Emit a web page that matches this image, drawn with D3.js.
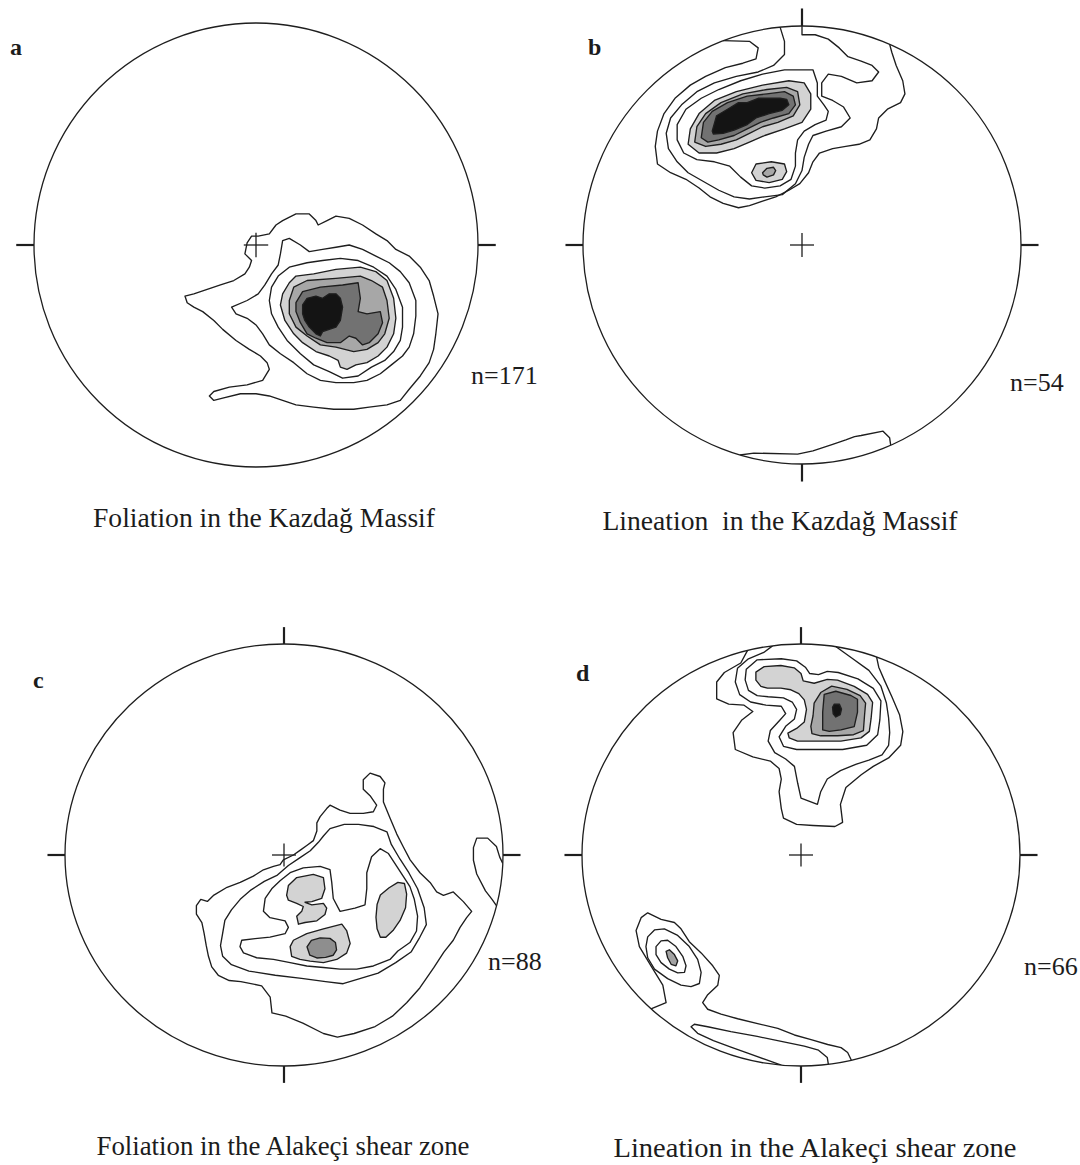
<!DOCTYPE html>
<html>
<head>
<meta charset="utf-8">
<script src="https://cdn.jsdelivr.net/npm/d3@7"></script>
<style>
  body { margin: 0; background: #fff; }
  svg text { font-family: 'Liberation Serif', 'Times New Roman', serif; fill: #1c1c1c; }
</style>
</head>
<body>
<div id="chart"></div>
<script>
'use strict';

/*
    Density contours on four equal-area nets.
    Every vertex is in net units: primitive circle radius = 100, +x east, +y south.
*/

// --- a : foliation, Kazdag Massif (n=171)
var aOuter = [[-2,7],[-5,4],[-4,-1],[-2,-4],[1,-4],[6,-5],[9,-9],[12,-11],[18,-14],[24,-14],[27,-11],[28,-9],[32,-11],[36,-13],[42,-12],[48,-9],[54,-5],[59,-2],[63,2],[69,5],[74,10],[78,16],[80,23],[82,31],[81,40],[80,47],[78,53],[74,59],[69,65],[65,70],[59,72],[51,73],[44,74],[35,74],[26,73],[18,72],[12,70],[6,68],[0,67],[-7,67],[-15,69],[-19,70],[-21,68],[-19,66],[-12,64],[-4,63],[3,61],[6,56],[5,53],[2,50],[-3,47],[-9,43],[-15,38],[-19,34],[-24,30],[-28,28],[-31,26],[-32,23],[-28,22],[-22,20],[-16,18],[-10,16],[-5,13],[-3,10]];
var aSecond = [[-11,28],[-4,25],[1,22],[4,18],[7,13],[10,9],[11,4],[12,-2],[15,-3],[20,0],[24,3],[30,2],[36,1],[42,0],[48,2],[54,5],[60,8],[65,12],[69,17],[72,25],[72,32],[71,40],[69,46],[66,50],[61,54],[56,58],[50,61],[44,62],[36,62],[29,61],[23,58],[17,53],[11,49],[6,45],[3,40],[0,36],[-4,33],[-9,31]];
var aThird = [[6,25],[7,19],[10,14],[15,10],[23,8],[30,7],[38,6],[46,7],[53,10],[59,14],[63,20],[66,28],[66,37],[65,43],[62,48],[58,52],[52,55],[46,59],[39,60],[33,57],[26,54],[20,49],[14,43],[10,37],[7,31]];
var aLight = [[12,22],[15,17],[18,14],[26,13],[36,11],[47,10],[54,12],[59,16],[62,24],[63,33],[62,40],[59,46],[55,50],[50,53],[45,54],[41,56],[38,55],[37,52],[33,50],[27,48],[21,44],[17,40],[13,34],[11,27]];
var aMid = [[15,25],[17,19],[23,16],[36,15],[47,14],[52,16],[57,19],[59,25],[60,33],[58,40],[55,44],[50,47],[44,48],[36,46],[29,45],[23,41],[18,37],[15,31]];
var aDark = [[18,26],[21,21],[29,19],[39,18],[46,17],[47,24],[46,30],[50,31],[56,30],[57,35],[55,40],[51,44],[48,45],[45,42],[42,41],[38,44],[32,44],[27,42],[23,40],[20,35],[18,30]];
var aCore = [[21,27],[23,24],[27,23],[30,24],[33,22],[36,22],[38,24],[39,28],[38,34],[36,37],[33,38],[30,39],[29,41],[27,40],[24,37],[22,34],[21,31]];

// --- b : lineation, Kazdag Massif (n=54)
var bOuter = [[-36,-93.3],[-24,-93],[-20,-90],[-21,-85],[-27,-83],[-35,-81],[-44,-77],[-51,-73],[-58,-67],[-63,-60],[-66,-52],[-67,-45],[-66,-37],[-60,-33],[-53,-30],[-47,-26],[-42,-22],[-36,-19],[-29,-17],[-24,-18],[-18,-20],[-12,-22],[-6,-25],[-1,-28],[3,-33],[5,-38],[8,-42],[14,-44],[20,-45],[26,-46],[31,-48],[34,-53],[35,-58],[39,-62],[45,-65],[47,-69],[46,-75],[43,-82],[41,-88],[40,-91.7]];
var bSecond = [[0,-100],[0,-96],[6,-96],[12,-94],[17,-90],[21,-86],[27,-84],[32,-82],[35,-79],[32,-75],[25,-74],[18,-77],[12,-78],[9,-74],[9,-68],[14,-66],[19,-63],[22,-58],[18,-54],[11,-52],[5,-50],[3,-46],[1,-40],[0,-34],[-3,-28],[-9,-23],[-17,-22],[-24,-21],[-31,-22],[-38,-25],[-45,-29],[-52,-33],[-57,-38],[-61,-44],[-62,-51],[-60,-58],[-55,-64],[-48,-70],[-40,-74],[-30,-77],[-20,-79],[-13,-82],[-8,-87],[-8,-93],[-10,-99.5]];
var bThird = [[5,-80],[7,-74],[7,-68],[10,-64],[12,-61],[11,-57],[6,-55],[1,-52],[-2,-48],[-3,-42],[-3,-36],[-5,-30],[-10,-27],[-17,-26],[-23,-27],[-28,-31],[-33,-36],[-40,-38],[-48,-39],[-54,-42],[-57,-48],[-57,-55],[-53,-62],[-46,-67],[-38,-71],[-28,-75],[-18,-78],[-8,-80]];
var bLight = [[-52,-46],[-51,-53],[-47,-60],[-40,-66],[-30,-70],[-18,-73],[-6,-75],[1,-74],[4,-69],[4,-62],[0,-56],[-8,-53],[-17,-50],[-24,-47],[-31,-44],[-39,-42],[-47,-42]];
var bMid = [[-49,-47],[-48,-54],[-44,-60],[-37,-65],[-27,-69],[-16,-71],[-7,-72],[-2,-70],[-1,-64],[-4,-59],[-11,-56],[-18,-54],[-24,-51],[-30,-48],[-37,-46],[-44,-45]];
var bDark = [[-46,-49],[-45,-56],[-41,-61],[-34,-65],[-25,-68],[-16,-69],[-8,-70],[-4,-68],[-3,-64],[-6,-60],[-13,-58],[-19,-56],[-25,-53],[-31,-50],[-38,-48],[-43,-47]];
var bCore = [[-41,-52],[-39,-59],[-34,-62],[-29,-65],[-25,-65],[-20,-67],[-15,-67],[-10,-67],[-7,-66.5],[-6,-64],[-9,-61.5],[-15,-60],[-21,-58],[-25,-55],[-31,-52.5],[-36,-51],[-40.5,-50.7]];
var bSmallLight = [[-23,-33],[-21,-37],[-14,-38],[-8,-37],[-7,-33.5],[-9,-30],[-15,-28.5],[-21,-29.5]];
var bSmallMid = [[-18,-33],[-16,-35],[-13,-35.5],[-12,-34],[-13,-32],[-16,-31],[-17.7,-32]];
var bAntipode = [[-28.3,95.9],[-22,95],[-2,95.5],[5,94],[14,91],[20,89],[24,87.5],[27,87],[37,85],[40,88],[40.5,91.4]];

// --- c : foliation, Alakeci shear zone (n=88)
var cOuter = [[-38,21],[-35,22],[-32,19],[-26,15.3],[-20,13],[-14,10],[-9.4,7],[-4.8,5.4],[-1.8,4.6],[-0.3,2.3],[4.3,0],[7.3,-2.2],[10.4,-4.5],[13.4,-6.8],[15,-11.4],[15,-15.2],[16.5,-18.2],[19.5,-22],[21,-23.6],[25.6,-21.3],[30.2,-19.7],[36.2,-19.7],[40.8,-20.5],[42.3,-23.6],[39.3,-28.1],[36.2,-31.2],[36.2,-35.7],[39.3,-38.8],[43.9,-37.2],[46.1,-34.2],[45.4,-31.2],[45.4,-25.1],[48.4,-17.5],[51.5,-9.9],[54.5,-3.8],[57.6,2.3],[62.1,8.4],[66.7,13],[69.7,17.5],[72.8,19.1],[77.3,17.5],[81.9,22.1],[85.7,26.7],[83.4,29.7],[80.4,34.3],[77.3,40.4],[73,46],[68.4,53.4],[62,63],[56,70],[49.5,76.4],[41.6,81.3],[32,84.6],[24.4,86.3],[18,84.6],[8.6,79.7],[0.8,76.4],[-5.5,74.8],[-6.3,67.4],[-10.2,62],[-19.7,60],[-25,59.5],[-30,57],[-33,53],[-34.5,48],[-35.5,43],[-36.5,37],[-37.5,32],[-40,28],[-40,24]];
var cSecond = [[2,5],[7,1.5],[12,-2],[15.7,-6],[18,-9],[21,-12.5],[27.5,-14.5],[34,-14.5],[41,-13.5],[47,-11],[49,-5],[53,2],[57,8.4],[61,16],[64,25],[65,33],[62,39],[58,46],[51,51],[43,56],[35,58.5],[27,61],[19,60],[8,58.5],[-4,57],[-16,55],[-24,52],[-28,48],[-29,43],[-28,37],[-27,31],[-24,26],[-20,21],[-15,16.5],[-9,12.5],[-3,9.5]];
var cThird = [[-20.1,43.4],[-19.3,40.4],[-13.2,39.6],[-6.4,38.9],[0.5,37.3],[2,34.3],[0.5,31.2],[-6.4,29.7],[-9.4,26.7],[-8.6,20.6],[-5.6,16],[-1.8,12.2],[2.8,8.4],[8.8,6.1],[16.5,5.4],[21,6.9],[21.8,13],[22.5,20.6],[25.6,26.7],[32.4,25.2],[37,23.6],[37.8,16],[37.8,8.4],[40,0.8],[43.9,-3],[47.7,-0.7],[51.5,5.4],[55,11],[57.5,15],[59.5,21],[61,29],[60.5,36],[57.5,41.5],[52,45.5],[48.4,49.5],[40.8,52.6],[33.2,54.1],[25.6,54.1],[18,53.3],[10.4,52.6],[2.8,51],[-4.8,49.5],[-12.5,48.7],[-18.5,46.4]];
var cLightNW = [[1.2,19.1],[2,14.5],[5.8,10.7],[13.4,9.2],[18,10.7],[18.7,16],[17.2,20.6],[12.7,22.1],[9.6,22.4],[12.7,23.6],[18,22.9],[19.5,25.2],[18.7,28.2],[15,31.2],[9.6,32],[6.6,32.8],[5.8,29],[8.1,26.7],[8.8,24.4],[5.8,22.9],[2,21.4]];
var cLightE = [[42.5,23.5],[44,19],[48,15.5],[52,13],[55,13.5],[56,18.5],[55.5,25],[53,31],[50,35.5],[46.5,39],[44,39],[42.5,35],[42,29.5]];
var cLightS = [[2.8,43.4],[4.3,40.4],[10.4,37.3],[18,35],[26.4,32.8],[28.6,35.8],[30.2,41.9],[28.6,46.5],[24.1,49.5],[18,51],[11.9,50.3],[7.3,49.5],[3.5,48]];
var cMidS = [[10.5,43.5],[12.5,40.5],[16.5,39.3],[21,39.5],[23.5,41.5],[24,45],[22.5,47.5],[19,48.5],[15,48.8],[11.8,47.5]];
var cRim = [[99.9,4],[98.5,1],[97,-4],[93,-8],[88,-8],[86.5,-3.5],[86.5,2.5],[88,9],[92,17],[95,21],[97,24]];

// --- d : lineation, Alakeci shear zone (n=66)
var dOuter = [[-24.4,-97],[-27.5,-91],[-35,-86.5],[-38.5,-82],[-38.5,-74],[-33,-71.5],[-26,-71],[-22,-68],[-27,-64],[-31,-58],[-30,-50],[-22,-46.5],[-14,-44.5],[-10,-41],[-9,-36],[-10,-30],[-9,-22],[-8,-17.5],[-2,-14.5],[5.5,-14],[15.5,-13.5],[19,-15.5],[18,-24],[20.5,-32],[27.5,-38],[33,-42],[40,-46],[45.5,-52],[46.5,-58.5],[45,-66.5],[41.5,-75],[38,-83],[35.5,-89],[34.5,-93.9]];
var dSecond = [[-13,-99.1],[-17,-96],[-24,-93],[-29,-88.5],[-30,-82],[-28,-76],[-23,-72.5],[-16,-71],[-9,-70.5],[-7,-67],[-10,-63.5],[-14,-59],[-15,-54],[-12,-48.5],[-7,-45.5],[-3,-42],[-1.5,-34],[0,-27],[7.5,-24],[9,-30],[12,-36],[18,-40],[25,-43],[31,-45],[37,-47.5],[40,-52],[40.5,-58],[40,-65],[39,-72],[36.5,-80],[31,-87.5],[23,-93.5],[16,-98.7]];
var dThird = [[-25,-88],[-20,-92.5],[-9,-93],[-2,-92],[2,-89],[4,-86],[8,-85.5],[12,-87],[17,-86.5],[26,-83.5],[33,-79],[36.5,-73],[36,-64],[35,-57],[30,-52],[19,-50],[7.5,-50],[-2,-50],[-8,-51.5],[-10,-56],[-7,-61],[-3,-64.5],[-2,-69],[-4,-72.5],[-8,-74.5],[-15,-75],[-20,-75.5],[-24,-78],[-25.5,-83]];
var dLight = [[-20.6,-86.7],[-16.8,-89.3],[-9.2,-89.8],[-3.1,-88.7],[0,-86],[1,-82.5],[6,-81.4],[12,-83.2],[16.7,-82.9],[24.3,-79.9],[30.4,-76.1],[32.7,-72.3],[32,-64.6],[31.2,-58.6],[27.4,-55.5],[18.2,-54],[7.6,-54],[-1.6,-54],[-5.4,-55.5],[-6,-57.8],[-2,-60],[1.5,-63],[2.5,-69],[1.5,-73.5],[-1,-76.5],[-4.6,-78.3],[-9.2,-79.1],[-15.3,-79.1],[-18.3,-79.9],[-20.6,-82.9]];
var dMid = [[6,-72],[9,-77],[14,-80],[21,-78.5],[27,-75.5],[29.5,-72],[29,-66],[28.5,-59],[24,-57],[16.7,-56.5],[9,-56.5],[5,-57.5],[4.5,-61],[5.5,-66]];
var dDark = [[10.6,-76.1],[15.9,-77.6],[22.8,-75.6],[25.8,-73.8],[25.8,-67.7],[24.3,-60.8],[18.2,-59.3],[12.9,-58.6],[9.9,-59.3],[9.9,-67.7]];
var dCore = [[15.2,-71.5],[17.5,-71.5],[18.5,-69.2],[17.9,-66.5],[15.9,-65.4],[14.7,-66.9],[14.4,-70]];
var dSwOuter = [[-68.5,72.9],[-61.6,70],[-63.1,61.7],[-68.5,52.5],[-73.8,43.4],[-75.3,35.8],[-73,29.7],[-70,27.4],[-63.9,30.5],[-57.8,32],[-54.8,35],[-51,41.1],[-45.6,46.4],[-40.3,52.5],[-37.3,57.1],[-38,61.7],[-42.6,66.2],[-44.9,70],[-42.6,73.1],[-36.5,75.4],[-28.9,77.6],[-19.8,79.9],[-10.6,82.2],[-3,85.3],[4.6,87.5],[12.2,89.8],[18.3,91.3],[21.3,93.6],[23,97.3]];
var dSwThird = [[-70,38.8],[-66.9,35.5],[-62.4,35],[-56.3,38.1],[-51,43.4],[-47.2,49.5],[-45.6,55.6],[-46.4,60.9],[-50.2,62.4],[-54.8,61.7],[-60.9,58.6],[-66.9,54.1],[-70,48.7],[-70.8,43.4]];
var dSwFourth = [[-66.2,43.4],[-63.9,40.7],[-60.9,40.4],[-57.1,43.4],[-54,48],[-52.5,52.5],[-53.2,55.6],[-56.3,55.9],[-60.1,54.1],[-63.9,51],[-66.2,47.2]];
var dSwCore = [[-61.6,45.7],[-60.1,44.9],[-57.8,47.2],[-56.3,50.2],[-57.1,52.5],[-59.3,51.8],[-60.9,48.7]];
var dSwArm = [[12.5,99.2],[12,96],[8,92.5],[1.5,90.6],[-9,88.3],[-20,86],[-32,83.7],[-42.6,81.4],[-48.7,80.2],[-50.2,81.4],[-47.2,84.5],[-40,88],[-32,91],[-24,94],[-16,97],[-9,99.6]];

var panelLetters = ['a', 'b', 'c', 'd'];
var counts = ['n=171', 'n=54', 'n=88', 'n=66'];
var captions = ['Foliation in the Kazdağ Massif', 'Lineation  in the Kazdağ Massif',
                'Foliation in the Alakeçi shear zone', 'Lineation in the Alakeçi shear zone'];

var GREY = { light: '#d3d3d3', mid: '#a7a7a7', dark: '#727272', black: '#141414' };
var INK = '#1e1e1e';

var svg = d3.select('#chart').append('svg')
    .attr('width', 1080).attr('height', 1165)
    .style('background', '#fff');

//layout of the four nets (the lower two are printed slightly squashed)
var nets = [
    { cx: 256, cy: 245, rx: 222, ry: 222, ticks: ['W', 'E'],
      letter: [10, 55], count: [471, 384], caption: [264, 527, 342],
      layers: [
        { pts: aOuter }, { pts: aSecond }, { pts: aThird },
        { pts: aLight, fill: GREY.light }, { pts: aMid, fill: GREY.mid },
        { pts: aDark, fill: GREY.dark }, { pts: aCore, fill: GREY.black } ] },
    { cx: 802, cy: 245, rx: 219, ry: 219, ticks: ['N', 'S', 'W', 'E'],
      letter: [588, 55], count: [1010, 391], caption: [780, 530, 355],
      layers: [
        { pts: bOuter, open: true }, { pts: bSecond, open: true }, { pts: bAntipode, open: true },
        { pts: bThird }, { pts: bSmallLight, fill: GREY.light }, { pts: bSmallMid, fill: GREY.mid },
        { pts: bLight, fill: GREY.light }, { pts: bMid, fill: GREY.mid },
        { pts: bDark, fill: GREY.dark }, { pts: bCore, fill: GREY.black } ] },
    { cx: 284, cy: 855, rx: 219, ry: 211, ticks: ['N', 'S', 'W', 'E'],
      letter: [33, 688], count: [488, 970], caption: [283, 1155, 373],
      layers: [
        { pts: cOuter }, { pts: cSecond }, { pts: cThird }, { pts: cRim, open: true },
        { pts: cLightNW, fill: GREY.light }, { pts: cLightE, fill: GREY.light },
        { pts: cLightS, fill: GREY.light }, { pts: cMidS, fill: '#8e8e8e' } ] },
    { cx: 801, cy: 855, rx: 219, ry: 211, ticks: ['N', 'S', 'W', 'E'],
      letter: [576, 681], count: [1024, 975], caption: [815, 1157, 403],
      layers: [
        { pts: dOuter, open: true }, { pts: dSecond, open: true }, { pts: dThird },
        { pts: dLight, fill: GREY.light }, { pts: dMid, fill: GREY.mid },
        { pts: dDark, fill: GREY.dark }, { pts: dCore, fill: GREY.black },
        { pts: dSwOuter, open: true }, { pts: dSwArm, open: true },
        { pts: dSwThird }, { pts: dSwFourth }, { pts: dSwCore, fill: '#a3a3a3' } ] }
];

nets.forEach(function (net, i) {

    var x = d3.scaleLinear().domain([-100, 100]).range([net.cx - net.rx, net.cx + net.rx]);
    var y = d3.scaleLinear().domain([-100, 100]).range([net.cy - net.ry, net.cy + net.ry]);

    var openLine = d3.line().x(function (d) { return x(d[0]); }).y(function (d) { return y(d[1]); });
    var closedLine = d3.line().x(function (d) { return x(d[0]); }).y(function (d) { return y(d[1]); })
        .curve(d3.curveLinearClosed);

    var g = svg.append('g').attr('class', 'net');

    g.append('clipPath').attr('id', 'prim' + i)
      .append('ellipse').attr('cx', x(0)).attr('cy', y(0))
      .attr('rx', x(100) - x(0)).attr('ry', y(100) - y(0));

    //contours, outer to inner
    g.append('g').attr('clip-path', 'url(#prim' + i + ')')
      .selectAll('path')
      .data(net.layers)
    .enter().append('path')
      .attr('d', function (d) { return d.open ? openLine(d.pts) : closedLine(d.pts); })
      .attr('fill', function (d) { return d.fill || 'none'; })
      .attr('stroke', INK)
      .attr('stroke-width', 1.35)
      .attr('stroke-linejoin', 'round');

    //primitive circle
    g.append('ellipse')
      .attr('cx', x(0)).attr('cy', y(0))
      .attr('rx', x(100) - x(0)).attr('ry', y(100) - y(0))
      .attr('fill', 'none').attr('stroke', INK).attr('stroke-width', 1.3);

    //north / south / west / east ticks
    var tickEnds = { N: [[0, -100], [0, -108]], S: [[0, 100], [0, 108]],
                     W: [[-100, 0], [-108, 0]], E: [[100, 0], [108, 0]] };
    g.selectAll('.tick')
      .data(net.ticks)
    .enter().append('line')
      .attr('class', 'tick')
      .attr('x1', function (d) { return x(tickEnds[d][0][0]); })
      .attr('y1', function (d) { return y(tickEnds[d][0][1]); })
      .attr('x2', function (d) { return x(tickEnds[d][1][0]); })
      .attr('y2', function (d) { return y(tickEnds[d][1][1]); })
      .attr('stroke', INK).attr('stroke-width', 2.2);

    //centre cross
    g.selectAll('.cross')
      .data([[[-5.5, 0], [5.5, 0]], [[0, -5.5], [0, 5.5]]])
    .enter().append('line')
      .attr('class', 'cross')
      .attr('x1', function (d) { return x(d[0][0]); })
      .attr('y1', function (d) { return y(d[0][1]); })
      .attr('x2', function (d) { return x(d[1][0]); })
      .attr('y2', function (d) { return y(d[1][1]); })
      .attr('stroke', INK).attr('stroke-width', 1.3);

    g.append('text')
      .attr('x', net.letter[0]).attr('y', net.letter[1])
      .attr('font-size', 24).attr('font-weight', 'bold')
      .text(panelLetters[i]);

    g.append('text')
      .attr('x', net.count[0]).attr('y', net.count[1])
      .attr('font-size', 26)
      .text(counts[i]);

    g.append('text')
      .attr('x', net.caption[0]).attr('y', net.caption[1])
      .attr('text-anchor', 'middle')
      .attr('font-size', 27)
      .attr('xml:space', 'preserve')
      .style('white-space', 'pre')
      .attr('textLength', net.caption[2])
      .attr('lengthAdjust', 'spacingAndGlyphs')
      .text(captions[i]);
});
</script>
</body>
</html>
